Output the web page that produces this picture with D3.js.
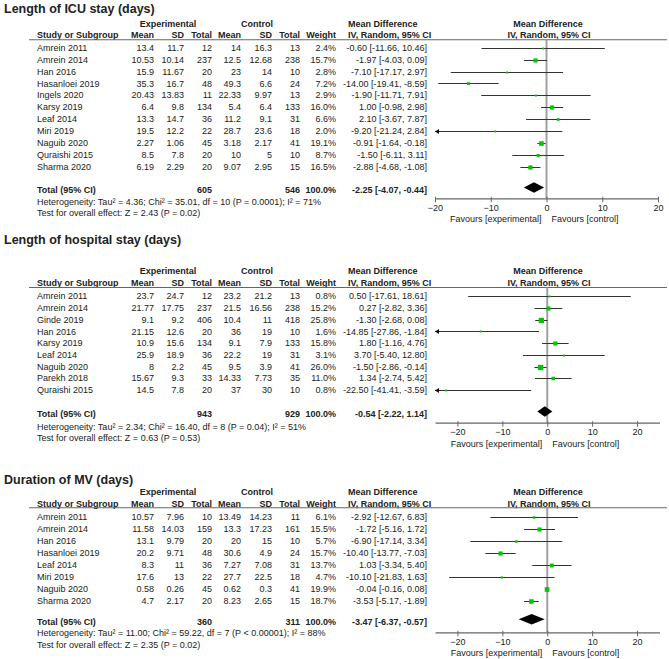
<!DOCTYPE html>
<html><head><meta charset="utf-8">
<script src="https://cdn.jsdelivr.net/npm/d3@7/dist/d3.min.js"></script>
<style>
body{margin:0;background:#fff;}
svg{display:block;font-family:"Liberation Sans",Arial,sans-serif;}
</style></head><body>
<script>
// ---------- DATA ----------
// Panel 1: Length of ICU stay (days)
const icuStudy   = ["Amrein 2011","Amrein 2014","Han 2016","Hasanloei 2019","Ingels 2020","Karsy 2019","Leaf 2014","Miri 2019","Naguib 2020","Quraishi 2015","Sharma 2020"];
const icuExpMean = [13.4,10.53,15.9,35.3,20.43,6.4,13.3,19.5,2.27,8.5,6.19];
const icuExpSD   = [11.7,10.14,11.67,16.7,13.83,9.8,14.7,12.2,1.06,7.8,2.29];
const icuExpN    = [12,237,20,48,11,134,36,22,45,20,20];
const icuCtlMean = [14,12.5,23,49.3,22.33,5.4,11.2,28.7,3.18,10,9.07];
const icuCtlSD   = [16.3,12.68,14,6.6,9.97,6.4,9.1,23.6,2.17,5,2.95];
const icuCtlN    = [13,238,10,24,13,133,31,18,41,10,15];
const icuWeight  = [2.4,15.7,2.8,7.2,2.9,16.0,6.6,2.0,19.1,8.7,16.5];
const icuMD      = [-0.60,-1.97,-7.10,-14.00,-1.90,1.00,2.10,-9.20,-0.91,-1.50,-2.88];
const icuLo      = [-11.66,-4.03,-17.17,-19.41,-11.71,-0.98,-3.67,-21.24,-1.64,-6.11,-4.68];
const icuHi      = [10.46,0.09,2.97,-8.59,7.91,2.98,7.87,2.84,-0.18,3.11,-1.08];
const icuTotal   = [605,546,100.0,-2.25,-4.07,-0.44]; // expN, ctlN, weight, MD, lo, hi
const icuHet  = "Heterogeneity: Tau² = 4.36; Chi² = 35.01, df = 10 (P = 0.0001); I² = 71%";
const icuTest = "Test for overall effect: Z = 2.43 (P = 0.02)";

// Panel 2: Length of hospital stay (days)
const hosStudy   = ["Amrein 2011","Amrein 2014","Ginde 2019","Han 2016","Karsy 2019","Leaf 2014","Naguib 2020","Parekh 2018","Quraishi 2015"];
const hosExpMean = [23.7,21.77,9.1,21.15,10.9,25.9,8,15.67,14.5];
const hosExpSD   = [24.7,17.75,9.2,12.6,15.6,18.9,2.2,9.3,7.8];
const hosExpN    = [12,237,406,20,134,36,45,33,20];
const hosCtlMean = [23.2,21.5,10.4,36,9.1,22.2,9.5,14.33,37];
const hosCtlSD   = [21.2,16.56,11,19,7.9,19,3.9,7.73,30];
const hosCtlN    = [13,238,418,10,133,31,41,35,10];
const hosWeight  = [0.8,15.2,25.8,1.6,15.8,3.1,26.0,11.0,0.8];
const hosMD      = [0.50,0.27,-1.30,-14.85,1.80,3.70,-1.50,1.34,-22.50];
const hosLo      = [-17.61,-2.82,-2.68,-27.86,-1.16,-5.40,-2.86,-2.74,-41.41];
const hosHi      = [18.61,3.36,0.08,-1.84,4.76,12.80,-0.14,5.42,-3.59];
const hosTotal   = [943,929,100.0,-0.54,-2.22,1.14];
const hosHet  = "Heterogeneity: Tau² = 2.34; Chi² = 16.40, df = 8 (P = 0.04); I² = 51%";
const hosTest = "Test for overall effect: Z = 0.63 (P = 0.53)";

// Panel 3: Duration of MV (days)
const mvStudy   = ["Amrein 2011","Amrein 2014","Han 2016","Hasanloei 2019","Leaf 2014","Miri 2019","Naguib 2020","Sharma 2020"];
const mvExpMean = [10.57,11.58,13.1,20.2,8.3,17.6,0.58,4.7];
const mvExpSD   = [7.96,14.03,9.79,9.71,11,13,0.26,2.17];
const mvExpN    = [10,159,20,48,36,22,45,20];
const mvCtlMean = [13.49,13.3,20,30.6,7.27,27.7,0.62,8.23];
const mvCtlSD   = [14.23,17.23,15,4.9,7.08,22.5,0.3,2.65];
const mvCtlN    = [11,161,10,24,31,18,41,15];
const mvWeight  = [6.1,15.5,5.7,15.7,13.7,4.7,19.9,18.7];
const mvMD      = [-2.92,-1.72,-6.90,-10.40,1.03,-10.10,-0.04,-3.53];
const mvLo      = [-12.67,-5.16,-17.14,-13.77,-3.34,-21.83,-0.16,-5.17];
const mvHi      = [6.83,1.72,3.34,-7.03,5.40,1.63,0.08,-1.89];
const mvTotal   = [360,311,100.0,-3.47,-6.37,-0.57];
const mvHet  = "Heterogeneity: Tau² = 11.00; Chi² = 59.22, df = 7 (P < 0.00001); I² = 88%";
const mvTest = "Test for overall effect: Z = 2.35 (P = 0.02)";

const panelTitles = ["Length of ICU stay (days)","Length of hospital stay (days)","Duration of MV (days)"];
const axisTicks = [-20,-10,0,10,20];
const axisDomains = [[-20,20],[-25,25],[-25,25]];

// ---------- LAYOUT ----------
const W = 669, H = 659;
const svg = d3.select("body").append("svg").attr("width",W).attr("height",H);
const FS = 9;
const txt = "#222";
const col = {name:37, em:154, esd:184, en:212, cm:241, csd:272, cn:300, w:336, ci:427, mdh:348};

const layouts = [
  {title:8.5, grp:23.5, hdr:35, line:39.7, row0:47.7, step:11.9, total:190, het:201.7, test:213.3, axis:198.3, range:[435,658]},
  {title:240, grp:271, hdr:283.3, line:287.5, row0:296.3, step:11.72, total:414, het:426.5, test:438.3, axis:422.7, range:[435,659.5]},
  {title:479.5, grp:491.7, hdr:504, line:507.8, row0:517.3, step:11.95, total:621.7, het:633.3, test:645, axis:632.3, range:[435,659.5]}
];

const panels = [
  {study:icuStudy, em:icuExpMean, esd:icuExpSD, en:icuExpN, cm:icuCtlMean, csd:icuCtlSD, cn:icuCtlN, w:icuWeight, md:icuMD, lo:icuLo, hi:icuHi, tot:icuTotal, het:icuHet, test:icuTest},
  {study:hosStudy, em:hosExpMean, esd:hosExpSD, en:hosExpN, cm:hosCtlMean, csd:hosCtlSD, cn:hosCtlN, w:hosWeight, md:hosMD, lo:hosLo, hi:hosHi, tot:hosTotal, het:hosHet, test:hosTest},
  {study:mvStudy, em:mvExpMean, esd:mvExpSD, en:mvExpN, cm:mvCtlMean, csd:mvCtlSD, cn:mvCtlN, w:mvWeight, md:mvMD, lo:mvLo, hi:mvHi, tot:mvTotal, het:mvHet, test:mvTest}
];

function t(g, x, y, s, anchor, bold, size){
  return g.append("text").attr("x",x).attr("y",y).attr("dy","0.35em")
    .attr("text-anchor",anchor||"start").attr("font-size",size||FS)
    .attr("font-weight",bold?"bold":"normal").attr("fill",txt).text(s);
}
const ciStr = (m,l,h)=> `${m.toFixed(2)} [${l.toFixed(2)}, ${h.toFixed(2)}]`;

panels.forEach((p,pi)=>{
  const L = layouts[pi];
  const g = svg.append("g");
  const x = d3.scaleLinear().domain(axisDomains[pi]).range(L.range);
  const y = d3.scaleLinear().domain([0,1]).range([L.row0, L.row0+L.step]);

  t(g, 4, L.title, panelTitles[pi], "start", true, 12.5);
  t(g, 168, L.grp, "Experimental", "middle", true);
  t(g, 257, L.grp, "Control", "middle", true);
  t(g, col.mdh, L.grp, "Mean Difference", "start", true);
  t(g, 548, L.grp, "Mean Difference", "middle", true);

  t(g, col.name, L.hdr, "Study or Subgroup", "start", true);
  t(g, col.em, L.hdr, "Mean", "end", true);
  t(g, col.esd, L.hdr, "SD", "end", true);
  t(g, col.en, L.hdr, "Total", "end", true);
  t(g, col.cm, L.hdr, "Mean", "end", true);
  t(g, col.csd, L.hdr, "SD", "end", true);
  t(g, col.cn, L.hdr, "Total", "end", true);
  t(g, col.w, L.hdr, "Weight", "end", true);
  t(g, col.mdh, L.hdr, "IV, Random, 95% CI", "start", true);
  t(g, 549, L.hdr, "IV, Random, 95% CI", "middle", true);

  g.append("line").attr("x1",29).attr("x2",667).attr("y1",L.line).attr("y2",L.line)
    .attr("stroke","#666").attr("stroke-width",1.1);

  // zero line
  g.append("line").attr("x1",x(0)).attr("x2",x(0)).attr("y1",L.line).attr("y2",L.axis)
    .attr("stroke","#a0a0a0").attr("stroke-width",2);

  p.study.forEach((s,i)=>{
    const yy = y(i);
    t(g, col.name, yy, s, "start");
    t(g, col.em, yy, String(p.em[i]), "end");
    t(g, col.esd, yy, String(p.esd[i]), "end");
    t(g, col.en, yy, String(p.en[i]), "end");
    t(g, col.cm, yy, String(p.cm[i]), "end");
    t(g, col.csd, yy, String(p.csd[i]), "end");
    t(g, col.cn, yy, String(p.cn[i]), "end");
    t(g, col.w, yy, p.w[i].toFixed(1)+"%", "end");
    t(g, col.ci, yy, ciStr(p.md[i],p.lo[i],p.hi[i]), "end");

    const d = x.domain();
    const lo = Math.max(p.lo[i], d[0]), hi = Math.min(p.hi[i], d[1]);
    const ly = Math.round(yy)+0.5;
    g.append("line").attr("x1",x(lo)).attr("x2",x(hi)).attr("y1",ly).attr("y2",ly)
      .attr("stroke","#333").attr("stroke-width",1);
    if (p.lo[i] < d[0]) {
      const ax = x(d[0]);
      g.append("path").attr("d",`M${ax},${ly} L${ax+4},${ly-2.5} L${ax+4},${ly+2.5} Z`).attr("fill","#111");
    }
    if (p.hi[i] > d[1]) {
      const ax = x(d[1]);
      g.append("path").attr("d",`M${ax},${ly} L${ax-4},${ly-2.5} L${ax-4},${ly+2.5} Z`).attr("fill","#111");
    }
    const sz = Math.max(2, Math.sqrt(p.w[i])*1.05);
    g.append("rect").attr("x",x(p.md[i])-sz/2).attr("y",ly-sz/2).attr("width",sz).attr("height",sz)
      .attr("fill","#00c800");
  });

  // total row
  const T = p.tot;
  t(g, col.name, L.total, "Total (95% CI)", "start", true);
  t(g, col.en, L.total, String(T[0]), "end", true);
  t(g, col.cn, L.total, String(T[1]), "end", true);
  t(g, col.w, L.total, T[2].toFixed(1)+"%", "end", true);
  t(g, col.ci, L.total, ciStr(T[3],T[4],T[5]), "end", true);
  const dy = L.total - 2.5;
  g.append("path").attr("d",`M${x(T[4])},${dy} L${x(T[3])},${dy-5.2} L${x(T[5])},${dy} L${x(T[3])},${dy+5.2} Z`).attr("fill","#000");

  t(g, col.name, L.het, p.het, "start");
  t(g, col.name, L.test, p.test, "start");

  // axis
  const ax = g.append("g").attr("transform",`translate(0,${L.axis})`)
    .call(d3.axisBottom(x).tickValues(axisTicks).tickSize(4).tickSizeOuter(0).tickPadding(2).tickFormat(d3.format("d")));
  ax.select(".domain").attr("stroke","#666").attr("stroke-width",1.3);
  ax.selectAll(".tick line").attr("stroke","#666").attr("stroke-width",1).attr("y1",-1.5);
  ax.selectAll(".tick text").attr("font-size",FS).attr("fill",txt).attr("font-family","Liberation Sans, Arial, sans-serif");
  const z = x(0);
  t(g, z-5, L.axis+21, "Favours [experimental]", "end");
  t(g, z+5, L.axis+21, "Favours [control]", "start");
});
</script>
</body></html>
